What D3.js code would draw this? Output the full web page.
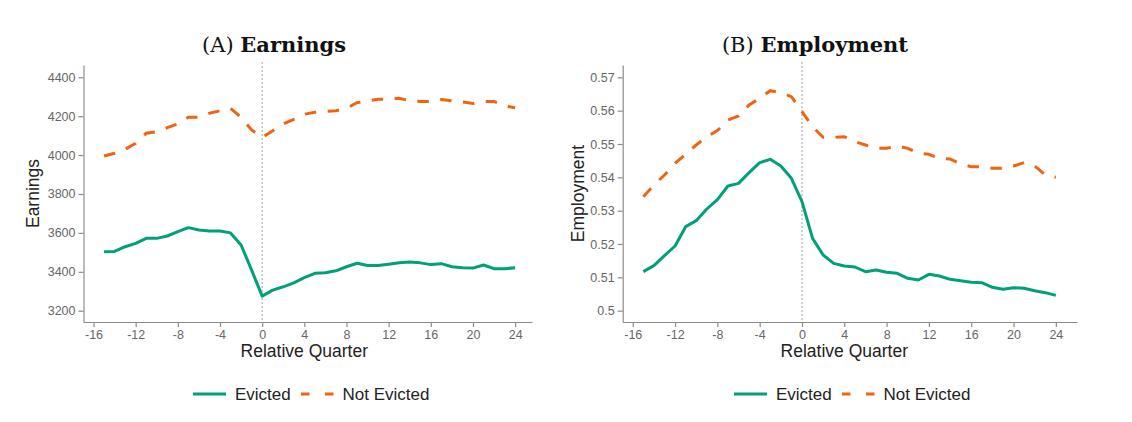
<!DOCTYPE html>
<html>
<head>
<meta charset="utf-8">
<script src="https://cdn.jsdelivr.net/npm/d3@7"></script>
<style>
	html, body { margin: 0; padding: 0; background: #fff; }
	svg { display: block; }
</style>
</head>
<body>
<svg id="chart" width="1132" height="422"></svg>
<script>
// quarters relative to eviction
const quarters = d3.range(-15, 25);

const earningsEvicted = [
	3503, 3505, 3529, 3546, 3572, 3572, 3584, 3606, 3627, 3615,
	3610, 3610, 3600, 3538, 3409, 3275, 3306, 3323, 3343, 3370,
	3392, 3395, 3405, 3426, 3444, 3432, 3432, 3439, 3446, 3450,
	3446, 3437, 3442, 3426, 3421, 3419, 3435, 3416, 3416, 3421
];
const earningsNotEvicted = [
	3995, 4009, 4030, 4061, 4112, 4120, 4141, 4160, 4194, 4194,
	4215, 4228, 4240, 4194, 4129, 4090, 4125, 4160, 4184, 4210,
	4220, 4224, 4228, 4240, 4269, 4279, 4287, 4288, 4292, 4279,
	4276, 4276, 4286, 4279, 4273, 4265, 4276, 4276, 4253, 4243
];
const employmentEvicted = [
	0.5117, 0.5135, 0.5165, 0.5194, 0.5252, 0.5270, 0.5305, 0.5333, 0.5374, 0.5382,
	0.5414, 0.5444, 0.5454, 0.5434, 0.5397, 0.5327, 0.5217, 0.5167, 0.5142, 0.5134,
	0.5131, 0.5117, 0.5122, 0.5115, 0.5112, 0.5097, 0.5092, 0.5109, 0.5104, 0.5094,
	0.5090, 0.5085, 0.5084, 0.5070, 0.5064, 0.5069, 0.5067, 0.5060, 0.5054, 0.5046
];
const employmentNotEvicted = [
	0.5342, 0.5377, 0.5407, 0.5442, 0.5470, 0.5497, 0.5522, 0.5540, 0.5572, 0.5584,
	0.5617, 0.5637, 0.5660, 0.5654, 0.5642, 0.5597, 0.5552, 0.5520, 0.5520, 0.5522,
	0.5507, 0.5497, 0.5487, 0.5487, 0.5494, 0.5487, 0.5472, 0.5469, 0.5457, 0.5455,
	0.5440, 0.5432, 0.5432, 0.5427, 0.5427, 0.5434, 0.5444, 0.5434, 0.5407, 0.5400
];

const quarterTicks = [-16, -12, -8, -4, 0, 4, 8, 12, 16, 20, 24];
const earningsTicks = [3200, 3400, 3600, 3800, 4000, 4200, 4400];
const employmentTicks = [0.5, 0.51, 0.52, 0.53, 0.54, 0.55, 0.56, 0.57];

const seriesNames = ['Evicted', 'Not Evicted'];

const GREEN = '#00a078';
const ORANGE = '#f0640f';
const AXIS_GREY = '#8c8c8c';
const TICK_TEXT = '#666666';

const svg = d3.select('#chart');

const drawPanel = function(cfg)
{
	const g = svg.append('g');

	const x = d3.scaleLinear().domain(cfg.xDomain).range(cfg.xRange);
	const y = d3.scaleLinear().domain(cfg.yDomain).range(cfg.yRange);

	// title
	const title = g.append('text')
		.attr('x', cfg.titleX)
		.attr('y', 52)
		.attr('text-anchor', 'middle')
		.style('font-family', '"DejaVu Serif", serif')
		.style('font-size', '21px')
		.style('fill', '#111');
	title.append('tspan').text(cfg.letter + ' ');
	title.append('tspan').style('font-weight', 'bold').text(cfg.title);

	// axes (plain hyphen for negatives, like the original)
	const xAxis = g.append('g')
		.attr('transform', 'translate(0,' + cfg.yRange[0] + ')')
		.call(d3.axisBottom(x).tickValues(quarterTicks).tickFormat((d)=>String(d))
			.tickSize(5).tickSizeOuter(0).tickPadding(3));

	const yAxis = g.append('g')
		.attr('transform', 'translate(' + cfg.xRange[0] + ',0)')
		.call(d3.axisLeft(y).tickValues(cfg.yTicks).tickFormat(cfg.yFormat).tickSize(5).tickSizeOuter(0).tickPadding(3));

	[xAxis, yAxis].forEach(function(ax){
		ax.select('.domain').attr('stroke', AXIS_GREY).attr('stroke-width', 1.2);
		ax.selectAll('.tick line').attr('stroke', AXIS_GREY).attr('stroke-width', 1.2);
		ax.selectAll('.tick text')
			.style('font-family', '"Liberation Sans", Arial, sans-serif')
			.style('font-size', '12.5px')
			.style('fill', TICK_TEXT);
	});

	// axis titles
	g.append('text')
		.attr('x', (x(-16) + x(24)) / 2)
		.attr('y', 357)
		.attr('text-anchor', 'middle')
		.style('font-family', '"Liberation Sans", Arial, sans-serif')
		.style('font-size', '17.5px')
		.style('fill', '#222')
		.text('Relative Quarter');

	g.append('text')
		.attr('transform', 'translate(' + cfg.yTitleX + ',' + ((cfg.yRange[0] + cfg.yRange[1]) / 2) + ') rotate(-90)')
		.attr('text-anchor', 'middle')
		.style('font-family', '"Liberation Sans", Arial, sans-serif')
		.style('font-size', '17.5px')
		.style('fill', '#222')
		.text(cfg.yTitle);

	// event line at quarter 0
	g.append('line')
		.attr('x1', x(0)).attr('x2', x(0))
		.attr('y1', 62).attr('y2', cfg.yRange[0])
		.attr('stroke', '#a0a0a0')
		.attr('stroke-width', 1)
		.attr('stroke-dasharray', '2,2');

	const line = d3.line()
		.x( (d, i)=>x(quarters[i]) )
		.y( (d)=>y(d) );

	g.append('path')
		.attr('d', line(cfg.notEvicted))
		.attr('fill', 'none')
		.attr('stroke', ORANGE)
		.attr('stroke-width', 3)
		.attr('stroke-dasharray', '11.5,11.5');

	g.append('path')
		.attr('d', line(cfg.evicted))
		.attr('fill', 'none')
		.attr('stroke', GREEN)
		.attr('stroke-width', 3)
		.attr('stroke-linejoin', 'round');

	// legend
	const lg = g.append('g').attr('transform', 'translate(' + cfg.legendX + ',394)');
	lg.append('line')
		.attr('x1', 0).attr('x2', 33).attr('y1', 0).attr('y2', 0)
		.attr('stroke', GREEN).attr('stroke-width', 3);
	lg.append('text')
		.attr('x', 42).attr('y', 6)
		.style('font-family', '"Liberation Sans", Arial, sans-serif')
		.style('font-size', '17px')
		.style('fill', '#222')
		.text(seriesNames[0]);
	lg.append('line')
		.attr('x1', 108).attr('x2', 141).attr('y1', 0).attr('y2', 0)
		.attr('stroke', ORANGE).attr('stroke-width', 3)
		.attr('stroke-dasharray', '8.5,15.5');
	lg.append('text')
		.attr('x', 149.5).attr('y', 6)
		.style('font-family', '"Liberation Sans", Arial, sans-serif')
		.style('font-size', '17px')
		.style('fill', '#222')
		.text(seriesNames[1]);
};

drawPanel({
	letter: '(A)',
	title: 'Earnings',
	titleX: 274,
	xDomain: [-16.95, 25.6],
	xRange: [83.5, 532],
	yDomain: [3142, 4463],
	yRange: [322, 65],
	yTicks: earningsTicks,
	yFormat: d3.format('d'),
	yTitle: 'Earnings',
	yTitleX: 39,
	legendX: 193,
	evicted: earningsEvicted,
	notEvicted: earningsNotEvicted
});

drawPanel({
	letter: '(B)',
	title: 'Employment',
	titleX: 815,
	xDomain: [-16.95, 26],
	xRange: [622.7, 1077],
	yDomain: [0.4966, 0.5737],
	yRange: [322, 65],
	yTicks: employmentTicks,
	yFormat: (d)=>String(+d.toFixed(2)),
	yTitle: 'Employment',
	yTitleX: 584,
	legendX: 734,
	evicted: employmentEvicted,
	notEvicted: employmentNotEvicted
});
</script>
</body>
</html>
